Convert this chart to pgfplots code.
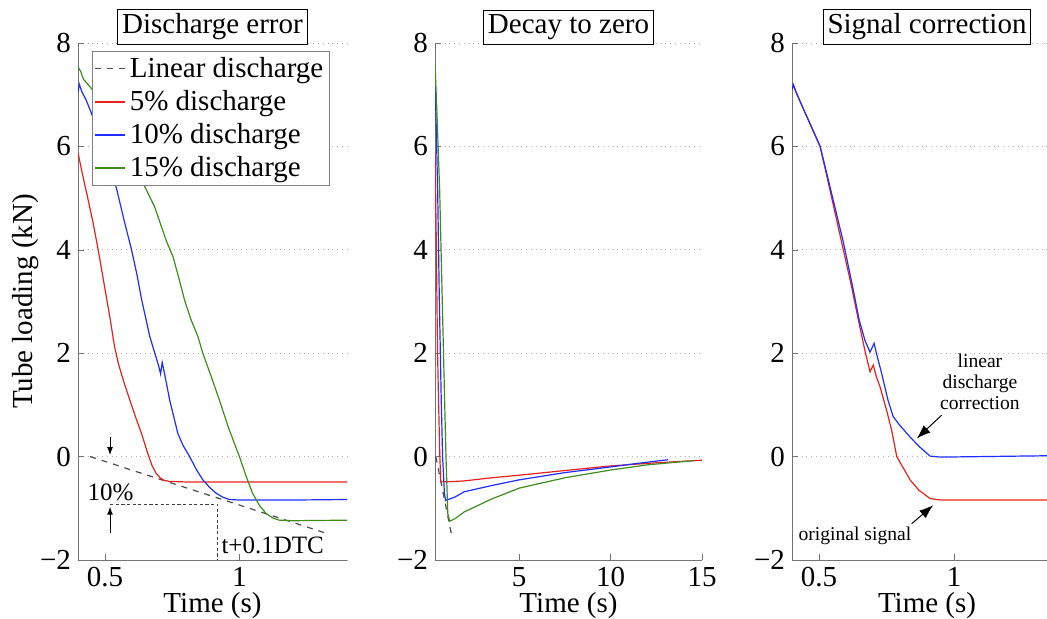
\documentclass[border=0pt]{standalone}
\usepackage{fontspec}
\setmainfont{Liberation Serif}
\usepackage{pgfplots}
\pgfplotsset{compat=1.18}
\usetikzlibrary{arrows.meta}
\definecolor{mred}{RGB}{232,32,28}
\definecolor{mblue}{RGB}{30,45,255}
\definecolor{mgreen}{RGB}{62,140,30}
\newcommand\bigf{\fontsize{14.5}{17}\selectfont}
\newcommand\midf{\fontsize{12.5}{14}\selectfont}
\newcommand\smlf{\fontsize{9.8}{10.6}\selectfont}

\pgfplotsset{
  panel/.style={
    scale only axis, height=258.5pt, anchor=south west,
    xmin=0.4, ymin=-2, ymax=8,
    axis x line=bottom, axis y line=left,
    axis line style={draw=black!55, -},
    x axis line style={-}, y axis line style={-},
    ytick={-2,0,2,4,6,8},
    yticklabels={−2,0,2,4,6,8},
    ymajorgrids, grid style={draw=black!30, dotted},
    tick align=inside, major tick length=3pt,
    tick style={draw=black!55},
    ticklabel style={font=\bigf},
    label style={font=\bigf},
    xlabel style={yshift=4pt},
    /pgf/number format/assume math mode=true,
    title style={at={(0.5,1)}, anchor=south, yshift=-7pt, draw=black,
      fill=white, inner sep=2.2pt, font=\bigf},
    every axis plot/.append style={line width=0.6pt},
  },
}

\begin{document}
\begin{tikzpicture}
\useasboundingbox (0,0) rectangle (523.5pt,309.5pt);

% left: discharge error
\begin{axis}[panel, at={(39pt,29.5pt)}, width=134.5pt,
    xmax=1.4, xtick={0.5,1}, xticklabels={0.5,1},
    title={Discharge error},
    xlabel={Time (s)}, ylabel={Tube loading (kN)},
    ylabel style={yshift=-6pt},
    legend style={at={(0.052,0.985)}, anchor=north west, draw=black!50,
      fill=white, font=\bigf, inner sep=1pt, row sep=1pt},
    legend cell align=left,
    legend image code/.code={\draw[#1, line width=0.7pt] (0pt,0pt) -- (15pt,0pt);},
]
\addplot[black!70, dashed] coordinates {(0.445,0) (1.321,-1.48)};
\addlegendentry{Linear discharge}
\addplot[mred] coordinates {
 (0.400,5.88) (0.415,5.50) (0.432,5.10) (0.455,4.55) (0.475,4.00)
 (0.500,3.25) (0.520,2.65) (0.535,2.15) (0.550,1.80) (0.570,1.45)
 (0.593,1.09) (0.615,0.75) (0.636,0.45) (0.660,0.05) (0.675,-0.17)
 (0.690,-0.32) (0.705,-0.41) (0.720,-0.46) (0.740,-0.48) (0.800,-0.49)
 (1.000,-0.49) (1.200,-0.49) (1.400,-0.49)};
\addlegendentry{5\% discharge}
\addplot[mblue] coordinates {
 (0.400,7.05) (0.405,7.20) (0.415,7.05) (0.430,6.90) (0.450,6.64)
 (0.500,5.90) (0.543,5.19) (0.570,4.60) (0.599,4.00) (0.620,3.50)
 (0.636,3.05) (0.667,2.32) (0.700,1.75) (0.707,1.60) (0.713,1.82)
 (0.720,1.65) (0.741,1.09) (0.771,0.45) (0.790,0.22) (0.815,0.00)
 (0.840,-0.25) (0.864,-0.45) (0.890,-0.60) (0.914,-0.71) (0.940,-0.79)
 (0.963,-0.83) (1.000,-0.84) (1.200,-0.84) (1.400,-0.83)};
\addlegendentry{10\% discharge}
\addplot[mgreen] coordinates {
 (0.400,7.54) (0.410,7.45) (0.420,7.30) (0.450,7.12) (0.500,6.70)
 (0.550,6.20) (0.600,5.75) (0.654,5.16) (0.685,4.83) (0.710,4.45)
 (0.730,4.15) (0.753,3.87) (0.775,3.45) (0.796,3.03) (0.820,2.65)
 (0.846,2.32) (0.864,2.00) (0.895,1.55) (0.926,1.09) (0.960,0.55)
 (1.000,0.00) (1.025,-0.38) (1.049,-0.71) (1.075,-0.95) (1.099,-1.10)
 (1.125,-1.19) (1.148,-1.23) (1.200,-1.24) (1.400,-1.23)};
\addlegendentry{15\% discharge}
\draw[black!75, dash pattern=on 1.6pt off 1.2pt, line width=0.5pt]
  (axis cs:0.52,-0.92) -- (axis cs:0.92,-0.92) -- (axis cs:0.92,-2);
\draw[-{Latex[length=4pt,width=3pt]}, line width=0.5pt]
  (axis cs:0.519,0.38) -- (axis cs:0.519,0.03);
\draw[-{Latex[length=4pt,width=3pt]}, line width=0.5pt]
  (axis cs:0.519,-1.48) -- (axis cs:0.519,-0.97);
\node[font=\midf, anchor=base, inner sep=0pt] at (axis cs:0.521,-0.84) {10\%};
\node[font=\midf, anchor=base west, inner sep=0pt] at (axis cs:0.932,-1.87) {t+0.1DTC};
\end{axis}

% middle: decay to zero
\begin{axis}[panel, at={(217.5pt,29.5pt)}, width=133.5pt,
    xmax=15, xtick={5,10,15}, xticklabels={5,10,15},
    title={Decay to zero}, xlabel={Time (s)},
]
\addplot[black!70, dashed] coordinates {(0.445,0) (1.31,-1.52)};
\addplot[mred] coordinates {
 (0.400,5.88) (0.432,5.16) (0.475,4.00) (0.537,2.05) (0.593,1.09)
 (0.660,0.05) (0.710,-0.45) (0.740,-0.49) (1.5,-0.48) (2,-0.47)
 (3.5,-0.41) (5,-0.36) (7.5,-0.27) (10,-0.18) (12.5,-0.12) (15,-0.07)};
\addplot[mblue] coordinates {
 (0.400,7.20) (0.450,6.64) (0.543,5.19) (0.636,3.05) (0.741,1.09)
 (0.815,0.00) (0.914,-0.71) (0.980,-0.85) (1.5,-0.78) (2,-0.68)
 (3.5,-0.56) (5,-0.45) (7.5,-0.31) (10,-0.20) (11.5,-0.13) (13.15,-0.06)};
\addplot[mgreen] coordinates {
 (0.400,7.60) (0.500,6.70) (0.654,5.16) (0.796,3.03) (0.926,1.09)
 (1.000,0.00) (1.099,-1.10) (1.200,-1.25) (1.5,-1.20) (2,-1.07)
 (3.5,-0.82) (5,-0.61) (7.5,-0.41) (10,-0.26) (12,-0.16) (14.5,-0.08)};
\end{axis}

% right: signal correction
\begin{axis}[panel, at={(396pt,29.5pt)}, width=135pt,
    xmax=1.4, xtick={0.5,1}, xticklabels={0.5,1},
    title={Signal correction}, xlabel={Time (s)},
]
\addplot[mred] coordinates {
 (0.400,7.10) (0.405,7.19) (0.415,7.05) (0.440,6.75) (0.470,6.40)
 (0.504,6.00) (0.530,5.40) (0.560,4.70) (0.590,4.00) (0.620,3.30)
 (0.646,2.64) (0.670,2.05) (0.689,1.64) (0.701,1.77) (0.712,1.55)
 (0.726,1.35) (0.750,0.90) (0.769,0.51) (0.788,0.00) (0.810,-0.20)
 (0.837,-0.45) (0.870,-0.65) (0.911,-0.81) (0.950,-0.84) (1.100,-0.84)
 (1.400,-0.84)};
\addplot[mblue] coordinates {
 (0.400,7.10) (0.405,7.19) (0.415,7.05) (0.440,6.75) (0.470,6.40)
 (0.504,6.00) (0.530,5.45) (0.560,4.80) (0.590,4.15) (0.620,3.40)
 (0.649,2.64) (0.670,2.25) (0.689,2.02) (0.704,2.19) (0.715,1.95)
 (0.732,1.61) (0.755,1.10) (0.775,0.77) (0.800,0.60) (0.837,0.38)
 (0.870,0.20) (0.911,0.01) (0.950,-0.01) (1.100,0.00) (1.400,0.02)};
\node[font=\smlf, align=center, inner sep=0pt] at (axis cs:1.096,1.45)
  {linear\\discharge\\correction};
\draw[-{Latex[length=7pt,width=5pt]}, line width=0.5pt]
  (axis cs:0.954,0.80) -- (axis cs:0.862,0.35);
\node[font=\smlf, inner sep=0pt] at (axis cs:0.633,-1.54) {original signal};
\draw[-{Latex[length=7pt,width=5pt]}, line width=0.5pt]
  (axis cs:0.843,-1.30) -- (axis cs:0.923,-0.94);
\end{axis}
\end{tikzpicture}
\end{document}
